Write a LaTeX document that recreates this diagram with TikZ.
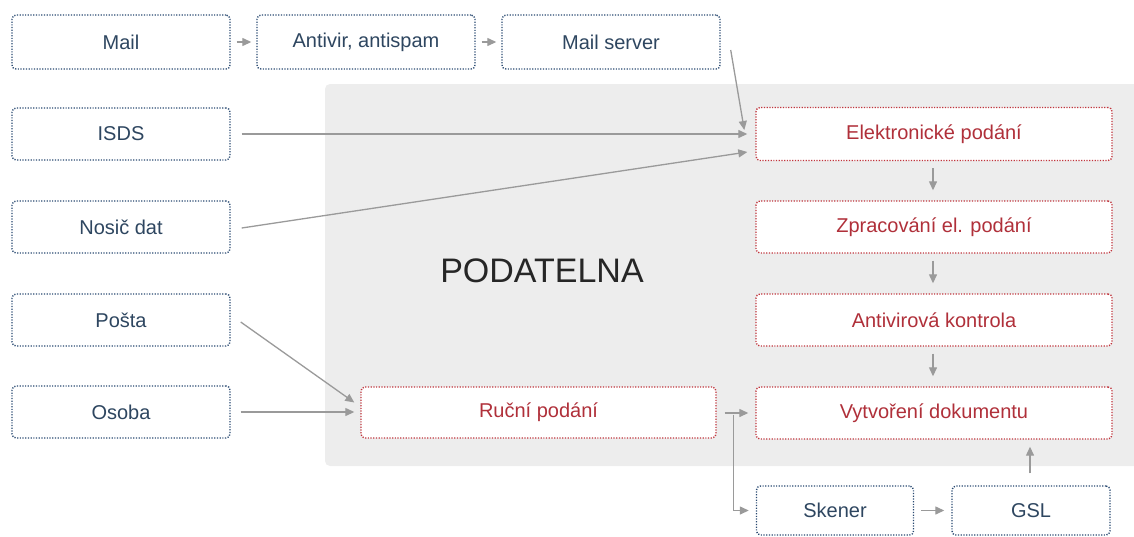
\documentclass[tikz,border=0pt]{standalone}
\usepackage{fontspec}
\setmainfont{Liberation Sans}
\usetikzlibrary{arrows.meta,calc}

\definecolor{boxblue}{HTML}{2A4A72}
\definecolor{txtblue}{HTML}{2E4660}
\definecolor{boxred}{HTML}{C0353D}
\definecolor{txtred}{HTML}{B0303A}
\definecolor{arrowgray}{HTML}{9A9A9A}
\definecolor{zonegray}{HTML}{EDEDED}

\tikzset{
  basebox/.style={rounded corners=4pt, fill=white, line width=1.4pt,
    dash pattern=on 1.2pt off 1.5pt, inner sep=0pt,
    font=\fontsize{20}{24}\selectfont},
  bluebox/.style={basebox, draw=boxblue, text=txtblue},
  redbox/.style={basebox, draw=boxred, text=txtred},
  flow/.style={draw=arrowgray, line width=1.3pt,
    -{Triangle[length=9pt,width=8pt]}},
}

\begin{document}
\begin{tikzpicture}[x=1pt,y=-1pt]
  \useasboundingbox (0,0) rectangle (1134,536);

  % grey zone of the registry office
  \fill[zonegray, rounded corners=5pt] (325,84) rectangle (1150,466);
  \node[text=black!85, font=\fontsize{34}{40}\selectfont] (title) at (542,271) {PODATELNA};

  % incoming channels
  \node[bluebox, minimum width=218pt, minimum height=54pt] (mail)   at (121,42)  {Mail};
  \node[bluebox, minimum width=218pt, minimum height=54pt] (av)     at (366,42)  {Antivir, antispam};
  \node[bluebox, minimum width=218pt, minimum height=54pt] (msrv)   at (611,42)  {Mail server};
  \node[bluebox, minimum width=218pt, minimum height=52pt] (isds)   at (121,134) {ISDS};
  \node[bluebox, minimum width=218pt, minimum height=52pt] (nosic)  at (121,227) {Nosič dat};
  \node[bluebox, minimum width=218pt, minimum height=52pt] (posta)  at (121,320) {Pošta};
  \node[bluebox, minimum width=218pt, minimum height=52pt] (osoba)  at (121,412) {Osoba};

  % processing steps
  \node[redbox, minimum width=356pt, minimum height=53pt] (elek)  at (934,134) {Elektronické podání};
  \node[redbox, minimum width=356pt, minimum height=52pt] (zprac) at (934,227) {Zpracování el. podání};
  \node[redbox, minimum width=356pt, minimum height=52pt] (antiv) at (934,320) {Antivirová kontrola};
  \node[redbox, minimum width=356pt, minimum height=52pt] (vytv)  at (934,413) {Vytvoření dokumentu};
  \node[redbox, minimum width=355pt, minimum height=51pt] (rucni) at (538.5,412.5) {Ruční podání};

  % scanning
  \node[bluebox, minimum width=157pt, minimum height=49pt] (sken) at (835,510.5) {Skener};
  \node[bluebox, minimum width=158pt, minimum height=49pt] (gsl)  at (1031,510.5) {GSL};

  % connectors
  \draw[flow, shorten <=6pt, shorten >=5pt] (mail) -- (av);
  \draw[flow, shorten <=6pt, shorten >=5pt] (av) -- (msrv);
  \draw[flow] ($(msrv.east)+(10,8)$) -- ($(elek.west)+(-11,-4)$);
  \draw[flow] ($(isds.east)+(11,0)$) -- ($(elek.west)+(-8,0)$);
  \draw[flow] ($(nosic.east)+(11,1)$) -- ($(elek.west)+(-8,18)$);
  \draw[flow, shorten <=7pt, shorten >=10pt] ([xshift=-1pt]elek.south) -- ([xshift=-1pt]zprac.north);
  \draw[flow, shorten <=7pt, shorten >=10pt] ([xshift=-1pt]zprac.south) -- ([xshift=-1pt]antiv.north);
  \draw[flow, shorten <=7pt, shorten >=10pt] ([xshift=-1pt]antiv.south) -- ([xshift=-1pt]vytv.north);
  \draw[flow] ($(posta.east)+(10,2)$) -- ($(rucni.west)+(-6,-10)$);
  \draw[flow] ($(osoba.east)+(10,0)$) -- ($(rucni.west |- osoba.east)+(-6,0)$);
  \coordinate (split) at ($(rucni.east)+(17,2)$);
  \draw[flow, shorten <=8pt, shorten >=7pt] (rucni.east |- vytv.west) -- (vytv.west);
  \draw[flow, shorten >=7pt] (split) |- (sken.west);
  \draw[flow, shorten <=7pt, shorten >=7pt] (sken) -- (gsl);
  \draw[flow, shorten <=12pt, shorten >=7pt] ([xshift=-1pt]gsl.north) -- ([xshift=-1pt]gsl.north |- vytv.south);
\end{tikzpicture}
\end{document}
